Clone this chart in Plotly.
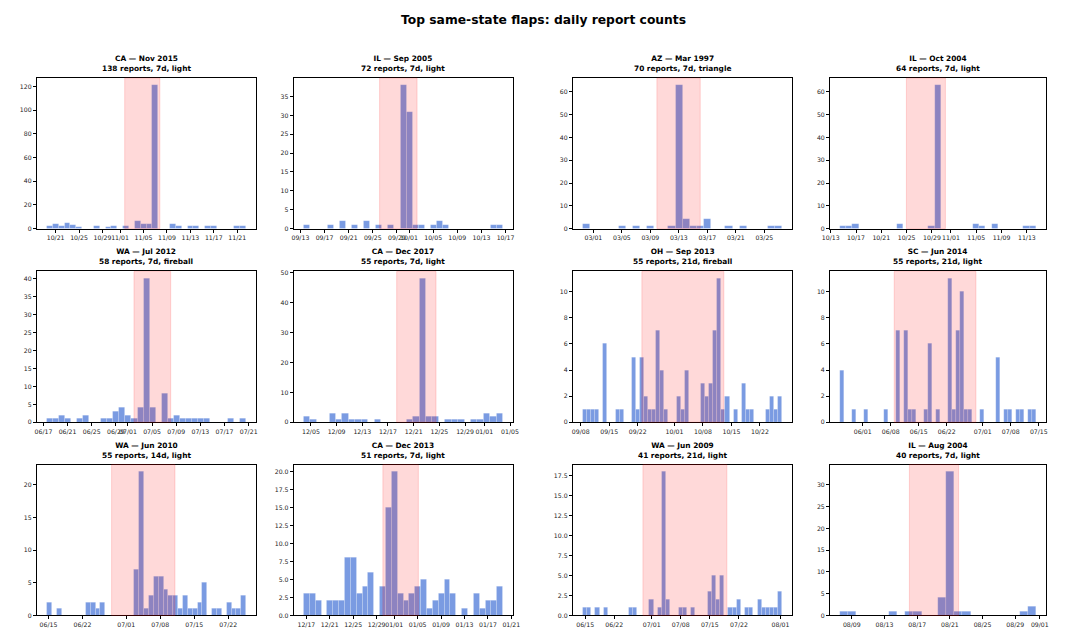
import plotly.graph_objects as go
import pandas as pd

FIG_TITLE = "Top same-state flaps: daily report counts"

panel_titles = ["CA — Nov 2015", "IL — Sep 2005", "AZ — Mar 1997", "IL — Oct 2004",
                "WA — Jul 2012", "CA — Dec 2017", "OH — Sep 2013", "SC — Jun 2014",
                "WA — Jun 2010", "CA — Dec 2013", "WA — Jun 2009", "IL — Aug 2004"]
panel_subtitles = ["138 reports, 7d, light", "72 reports, 7d, light", "70 reports, 7d, triangle",
                   "64 reports, 7d, light", "58 reports, 7d, fireball", "55 reports, 7d, light",
                   "55 reports, 21d, fireball", "55 reports, 21d, light", "55 reports, 14d, light",
                   "51 reports, 7d, light", "41 reports, 21d, light", "40 reports, 7d, light"]

# left edge of the first daily bin of each panel
bin_starts = ["2015-10-19 12:00", "2005-09-13 13:00", "1997-02-27 12:30", "2004-10-14 10:30",
              "2012-06-17 13:30", "2017-12-03 21:00", "2013-09-08 12:00", "2014-05-26 07:00",
              "2010-06-14 16:00", "2013-12-16 13:00", "2009-06-14 10:30", "2004-08-07 12:45"]

counts_ca_2015 = [2, 4, 2, 5, 3, 1, 0, 0, 2, 0, 1, 2, 0, 2, 0, 6, 4, 4, 121, 0, 0, 4, 2, 0, 2, 2, 0, 2, 2, 0, 0, 0, 2, 2]
counts_il_2005 = [1, 0, 0, 0, 1, 0, 2, 0, 1, 0, 2, 0, 1, 0, 1, 0, 38, 31, 1, 1, 0, 1, 2, 1, 0, 0, 0, 0, 0, 0, 0, 1, 1]
counts_az_1997 = [2, 0, 0, 0, 0, 1, 0, 1, 0, 1, 0, 0, 1, 63, 4, 1, 1, 4, 0, 0, 1, 0, 1, 0, 0, 0, 1, 1]
counts_il_2004o = [1, 1, 2, 0, 0, 0, 0, 0, 0, 2, 0, 0, 0, 0, 1, 63, 0, 0, 0, 0, 0, 2, 1, 0, 2, 0, 0, 0, 0, 1, 1]
counts_wa_2012 = [1, 1, 2, 1, 0, 1, 2, 0, 0, 1, 1, 3, 4, 2, 1, 4, 40, 4, 0, 8, 1, 2, 1, 1, 1, 1, 1, 0, 0, 0, 1, 0, 1]
counts_ca_2017 = [2, 1, 0, 0, 3, 1, 3, 1, 1, 1, 0, 1, 0, 0, 0, 0, 1, 2, 48, 2, 2, 0, 1, 1, 1, 0, 1, 1, 3, 2, 3]
counts_oh_2013 = [1, 1, 1, 1, 0, 6, 0, 0, 1, 1, 0, 0, 5, 1, 5, 2, 1, 1, 7, 4, 1, 0, 0, 2, 1, 4, 0, 0, 0, 3, 2, 3, 7, 11, 1,
                  2, 0, 1, 0, 3, 1, 1, 0, 0, 0, 1, 2, 1, 2]
counts_sc_2014 = [4, 0, 0, 1, 0, 0, 1, 0, 0, 0, 0, 1, 0, 0, 7, 0, 7, 1, 1, 0, 0, 1, 6, 0, 1, 0, 0, 11, 1, 7, 10, 1, 1, 0,
                  0, 1, 0, 0, 0, 5, 0, 1, 1, 0, 1, 1, 0, 1, 1]
counts_wa_2010 = [2, 0, 1, 0, 0, 0, 0, 0, 2, 2, 1, 2, 0, 0, 0, 0, 0, 0, 7, 22, 1, 3, 6, 6, 4, 3, 3, 1, 3, 1, 1, 2, 5, 0,
                  1, 1, 0, 2, 1, 1, 3]
counts_ca_2013 = [3, 3, 2, 0, 2, 2, 2, 8, 8, 3, 4, 6, 0, 4, 15, 20, 3, 2, 3, 4, 5, 1, 2, 3, 5, 3, 0, 1, 0, 3, 1, 2, 2, 4]
counts_wa_2009 = [1, 1, 0, 1, 0, 1, 0, 0, 0, 0, 0, 1, 1, 0, 0, 0, 2, 0, 1, 18, 2, 0, 0, 1, 1, 0, 1, 0, 0, 0, 3, 5, 2, 5,
                  0, 1, 1, 2, 0, 1, 1, 0, 2, 1, 1, 1, 1, 3]
counts_il_2004a = [1, 1, 0, 0, 0, 0, 1, 0, 1, 1, 0, 0, 4, 33, 1, 1, 0, 0, 0, 0, 0, 0, 1, 2]

all_counts = [counts_ca_2015, counts_il_2005, counts_az_1997, counts_il_2004o,
              counts_wa_2012, counts_ca_2017, counts_oh_2013, counts_sc_2014,
              counts_wa_2010, counts_ca_2013, counts_wa_2009, counts_il_2004a]

# flap window (highlighted)
span_starts = ["2015-11-01 19:00", "2005-09-26 03:00", "1997-03-09 22:00", "2004-10-24 23:00",
               "2012-07-02 00:00", "2017-12-18 08:30", "2013-09-23 00:00", "2014-06-08 21:00",
               "2010-06-28 00:00", "2013-12-30 01:30", "2009-06-28 21:30", "2004-08-16 01:00"]
span_ends = ["2015-11-07 19:00", "2005-10-02 08:00", "1997-03-16 00:00", "2004-10-31 03:00",
             "2012-07-08 02:00", "2017-12-24 11:30", "2013-10-13 03:30", "2014-06-29 07:00",
             "2010-07-11 01:00", "2014-01-05 03:00", "2009-07-19 02:30", "2004-08-22 01:30"]

x_tick_dates = [
    ["2015-10-21", "2015-10-25", "2015-10-29", "2015-11-01", "2015-11-05", "2015-11-09", "2015-11-13", "2015-11-17", "2015-11-21"],
    ["2005-09-13", "2005-09-17", "2005-09-21", "2005-09-25", "2005-09-29", "2005-10-01", "2005-10-05", "2005-10-09", "2005-10-13", "2005-10-17"],
    ["1997-03-01", "1997-03-05", "1997-03-09", "1997-03-13", "1997-03-17", "1997-03-21", "1997-03-25"],
    ["2004-10-13", "2004-10-17", "2004-10-21", "2004-10-25", "2004-10-29", "2004-11-01", "2004-11-05", "2004-11-09", "2004-11-13"],
    ["2012-06-17", "2012-06-21", "2012-06-25", "2012-06-29", "2012-07-01", "2012-07-05", "2012-07-09", "2012-07-13", "2012-07-17", "2012-07-21"],
    ["2017-12-05", "2017-12-09", "2017-12-13", "2017-12-17", "2017-12-21", "2017-12-25", "2017-12-29", "2018-01-01", "2018-01-05"],
    ["2013-09-08", "2013-09-15", "2013-09-22", "2013-10-01", "2013-10-08", "2013-10-15", "2013-10-22"],
    ["2014-06-01", "2014-06-08", "2014-06-15", "2014-06-22", "2014-07-01", "2014-07-08", "2014-07-15"],
    ["2010-06-15", "2010-06-22", "2010-07-01", "2010-07-08", "2010-07-15", "2010-07-22"],
    ["2013-12-17", "2013-12-21", "2013-12-25", "2013-12-29", "2014-01-01", "2014-01-05", "2014-01-09", "2014-01-13", "2014-01-17", "2014-01-21"],
    ["2009-06-15", "2009-06-22", "2009-07-01", "2009-07-08", "2009-07-15", "2009-07-22", "2009-08-01"],
    ["2004-08-09", "2004-08-13", "2004-08-17", "2004-08-21", "2004-08-25", "2004-08-29", "2004-09-01"],
]
y_tick_steps = [20, 5, 10, 10, 5, 10, 2, 2, 5, 2.5, 2.5, 5]
y_tick_formats = ["d", "d", "d", "d", "d", "d", "d", "d", "d", ".1f", ".1f", "d"]

# ---- layout geometry (pixels in a 1086x633 canvas) ----
W, H = 1086, 633
col_px = [(29.3, 251.7), (290.0, 512.3), (573.3, 796.0), (834.3, 1053.3)]
row_px = [(75.7, 227.7), (271.0, 423.3), (466.0, 618.3)]

BAR_COLOR = "rgb(122,155,226)"
SPAN_COLOR = "rgba(255,0,0,0.15)"
FONT = "DejaVu Sans"
DAY_MS = 86400000

fig = go.Figure()
layout = dict(
    width=W, height=H, margin=dict(l=0, r=0, t=0, b=0),
    paper_bgcolor="white", plot_bgcolor="white",
    font=dict(family=FONT, color="#222", size=6),
    showlegend=False, bargap=0,
)
shapes = []
annotations = [dict(text="<b>" + FIG_TITLE + "</b>", x=0.5, y=1 - 17 / H, xref="paper", yref="paper",
                    xanchor="center", yanchor="middle", showarrow=False,
                    font=dict(family=FONT, size=12.3, color="#000"))]

for k in range(12):
    r, c = divmod(k, 4)
    ax = "" if k == 0 else str(k + 1)
    counts = all_counts[k]
    n = len(counts)
    start = pd.Timestamp(bin_starts[k])
    centers = [start + pd.Timedelta(hours=24 * i + 12) for i in range(n)]
    fig.add_trace(go.Bar(
        x=centers, y=counts, width=[DAY_MS] * n,
        marker=dict(color=BAR_COLOR, line=dict(color="rgba(255,255,255,0.35)", width=0.5)),
        xaxis="x" + ax, yaxis="y" + ax, hoverinfo="x+y",
    ))
    x0 = start - pd.Timedelta(days=0.05 * n)
    x1 = start + pd.Timedelta(days=1.05 * n)
    ymax = max(counts) * 1.05
    tvals = [pd.Timestamp(t) for t in x_tick_dates[k]]
    ttext = [t.strftime("%m/%d") for t in tvals]
    (cl, cr), (rt, rb) = col_px[c], row_px[r]
    layout["xaxis" + ax] = dict(
        domain=[cl / W, cr / W], anchor="y" + ax, type="date",
        range=[x0.isoformat(), x1.isoformat()],
        tickmode="array", tickvals=tvals, ticktext=ttext, tickangle=0,
        showline=True, mirror=True, linecolor="#000", linewidth=1,
        ticks="outside", ticklen=3, tickwidth=1, tickcolor="#000",
        showgrid=False, zeroline=False, tickfont=dict(size=6.2, family=FONT, color="#222"),
        fixedrange=True,
    )
    layout["yaxis" + ax] = dict(
        domain=[1 - rb / H, 1 - rt / H], anchor="x" + ax,
        range=[0, ymax], tickmode="linear", tick0=0, dtick=y_tick_steps[k],
        tickformat=y_tick_formats[k],
        showline=True, mirror=True, linecolor="#000", linewidth=1,
        ticks="outside", ticklen=3, tickwidth=1, tickcolor="#000",
        showgrid=False, zeroline=False, tickfont=dict(size=6.2, family=FONT, color="#222"),
        fixedrange=True,
    )
    shapes.append(dict(type="rect", xref="x" + ax, yref="y" + ax + " domain",
                       x0=span_starts[k], x1=span_ends[k], y0=0, y1=1,
                       fillcolor=SPAN_COLOR, line=dict(width=1, color=SPAN_COLOR), layer="above"))
    annotations.append(dict(
        text="<b>" + panel_titles[k] + "</b><br><b>" + panel_subtitles[k] + "</b>",
        x=(cl + cr) / 2 / W, y=1 - rt / H, xref="paper", yref="paper",
        xanchor="center", yanchor="bottom", yshift=3, showarrow=False,
        font=dict(family=FONT, size=7.4, color="#000"),
    ))

layout["shapes"] = shapes
layout["annotations"] = annotations
fig.update_layout(**layout)
fig.write_html("out.html")
